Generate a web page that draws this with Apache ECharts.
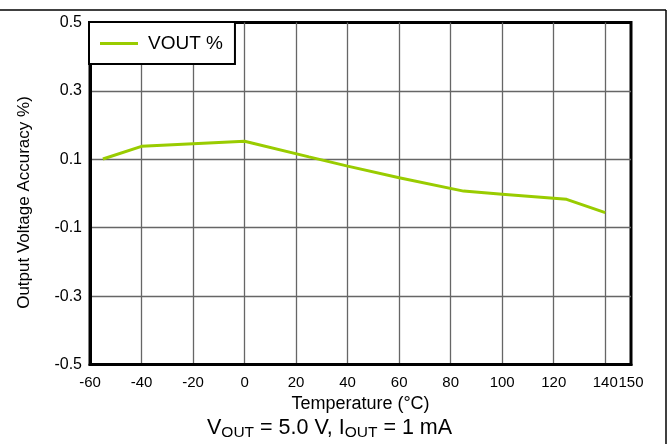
<!DOCTYPE html>
<html><head><meta charset="utf-8">
<script src="https://cdn.jsdelivr.net/npm/echarts@6/dist/echarts.min.js"></script>
<style>html,body{margin:0;padding:0;background:#fff}#c{width:669px;height:444px}</style>
</head><body><div id="c"></div>
<script>
// Data
const temperatures = [-55, -40, 0, 25, 40, 60, 85, 100, 125, 140];
const voutAccuracy = [0.101, 0.138, 0.153, 0.107, 0.080, 0.046, 0.007, -0.002, -0.017, -0.056];
const xTickValues = [-60, -40, -20, 0, 20, 40, 60, 80, 100, 120, 140, 150];
const yTickValues = [-0.5, -0.3, -0.1, 0.1, 0.3, 0.5];
const seriesName = 'VOUT %';
const xAxisName = 'Temperature (\u00B0C)';
const yAxisName = 'Output Voltage Accuracy %)';

const FONT = '"Liberation Sans", Arial, Helvetica, sans-serif';
const chart = echarts.init(document.getElementById('c'), null, {renderer: 'canvas'});

chart.setOption({
  animation: false,
  backgroundColor: '#fff',
  textStyle: {fontFamily: FONT, color: '#000'},
  grid: {left: 90, right: 38, top: 22.5, bottom: 79.5, show: true, borderColor: '#000', borderWidth: 3, backgroundColor: 'transparent'},
  legend: {
    data: [{name: seriesName, icon: 'path://M0 0H40V3H0Z'}], left: 89, top: 22, orient: 'vertical',
    padding: [12, 12, 11, 11], itemWidth: 38, itemHeight: 3, itemGap: 0,
    itemStyle: {color: '#99CC00'},
    borderColor: '#000', borderWidth: 2, backgroundColor: '#fff',
    textStyle: {fontFamily: FONT, fontSize: 19, color: '#000', padding: [0, 0, 0, 5]}
  },
  xAxis: {
    type: 'value', min: -60, max: 150,
    name: xAxisName, nameLocation: 'middle', nameGap: 30,
    nameTextStyle: {fontFamily: FONT, fontSize: 18, color: '#000'},
    axisLine: {show: true, onZero: false, lineStyle: {color: '#000', width: 3}},
    axisTick: {show: false, customValues: xTickValues},
    axisLabel: {customValues: xTickValues, fontFamily: FONT, fontSize: 15, color: '#000', margin: 11,
      showMaxLabel: true, showMinLabel: true, hideOverlap: false},
    splitLine: {show: true, showMinLine: false, showMaxLine: false, lineStyle: {color: '#666', width: 1.3}}
  },
  yAxis: {
    type: 'value', min: -0.5, max: 0.5,
    name: yAxisName, nameLocation: 'middle', nameGap: 57, nameRotate: 90,
    nameTextStyle: {fontFamily: FONT, fontSize: 17, color: '#000', padding: [0, 18, 0, 0]},
    axisLine: {show: true, onZero: false, lineStyle: {color: '#000', width: 3}},
    axisTick: {show: false, customValues: yTickValues},
    axisLabel: {customValues: yTickValues, fontFamily: FONT, fontSize: 16, color: '#000', margin: 8,
      formatter: v => v.toFixed(1)},
    splitLine: {show: true, showMinLine: false, showMaxLine: false, lineStyle: {color: '#666', width: 1.3}}
  },
  graphic: [
    {type: 'line', shape: {x1: 0, y1: 10, x2: 666, y2: 10}, style: {stroke: '#000', lineWidth: 1.5}, silent: true},
    {type: 'line', shape: {x1: 666, y1: 10, x2: 666, y2: 444}, style: {stroke: '#000', lineWidth: 1.5}, silent: true},
    {type: 'text', left: 207, top: 417, silent: true,
      style: {
        text: '{m|V}{s|OUT}{m| = 5.0 V, I}{s|OUT}{m| = 1 mA}',
        fill: '#000',
        rich: {
          m: {fontFamily: FONT, fontSize: 21.5, fill: '#000', lineHeight: 26},
          s: {fontFamily: FONT, fontSize: 15.5, fill: '#000', padding: [10, 0, 0, 0]}
        }
      }}
  ],
  series: [{
    name: seriesName, type: 'line', symbol: 'none',
    data: temperatures.map((t, i) => [t, voutAccuracy[i]]),
    lineStyle: {color: '#99CC00', width: 3},
    itemStyle: {color: '#99CC00'}, z: 5
  }]
});
</script>
</body></html>
